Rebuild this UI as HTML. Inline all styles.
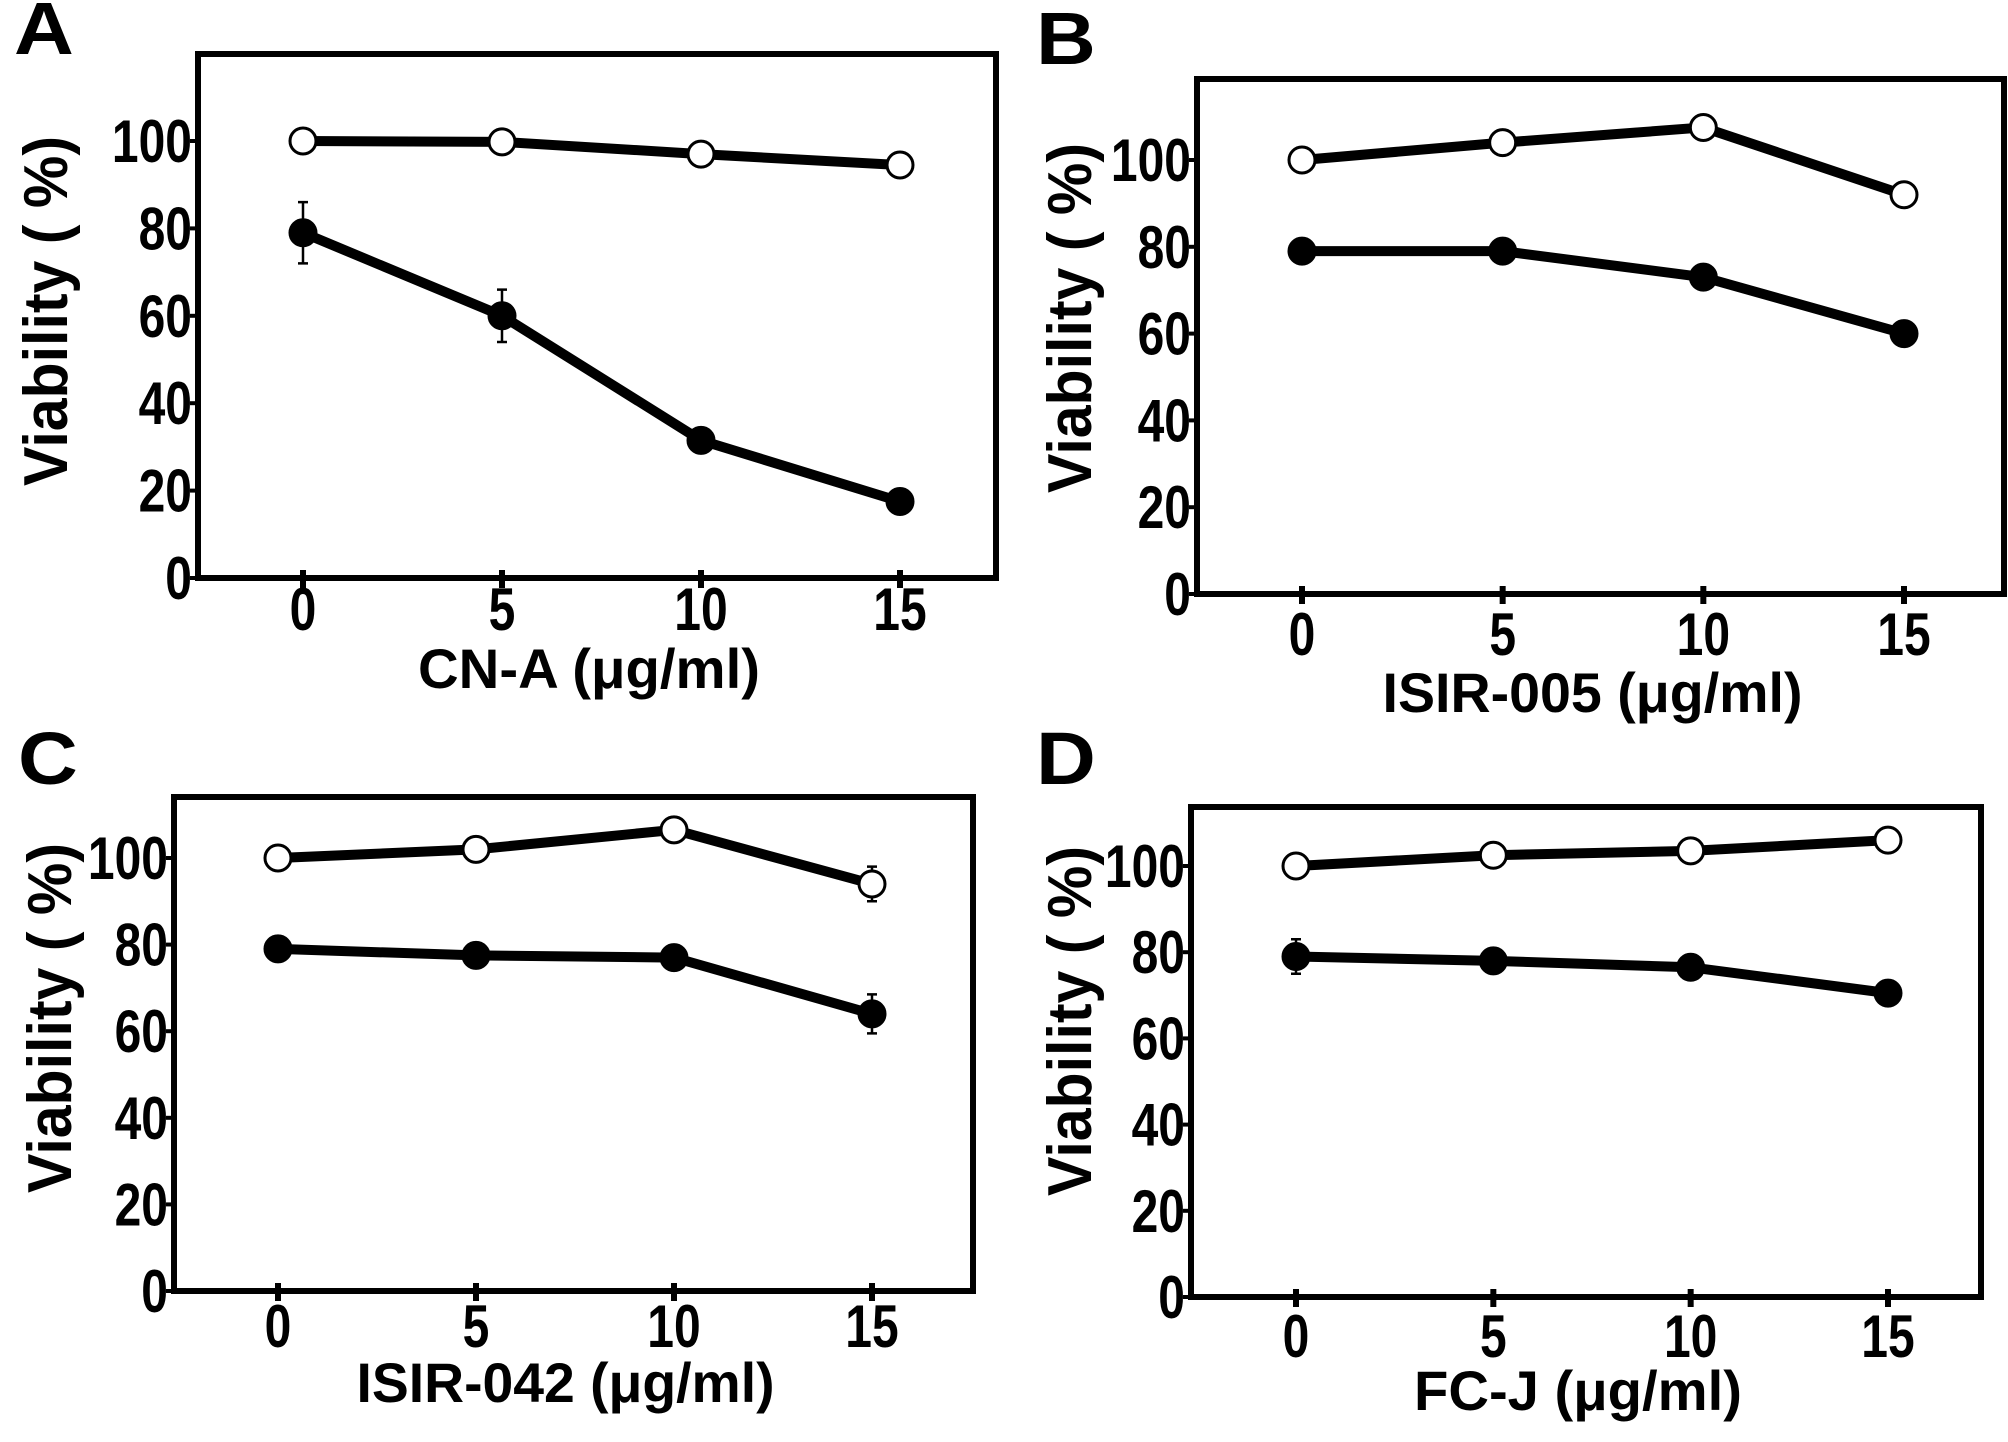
<!DOCTYPE html>
<html><head><meta charset="utf-8">
<style>
html,body{margin:0;padding:0;background:#fff;overflow:hidden;}
svg{display:block;}
text{font-family:"Liberation Sans",Arial,sans-serif;font-weight:bold;fill:#000;}
</style></head>
<body>
<svg id="fig" width="2008" height="1442" viewBox="0 0 2008 1442" xmlns="http://www.w3.org/2000/svg"></svg>
<script>
const doses = [0, 5, 10, 15];
const yTicks = [0, 20, 40, 60, 80, 100];
const xTickLabels = ["0", "5", "10", "15"];
const panelLetters = ["A", "B", "C", "D"];
const xTitles = ["CN-A (\u03bcg/ml)", "ISIR-005 (\u03bcg/ml)", "ISIR-042 (\u03bcg/ml)", "FC-J (\u03bcg/ml)"];
const openA = [100, 99.8, 97, 94.5];
const filledA = [79, 60, 31.5, 17.5];
const filledErrA = [7, 6, 0, 0];
const openErrA = [0, 0, 0, 0];
const openB = [100, 104, 107.5, 92];
const filledB = [79, 79, 73, 60];
const openErrB = [0, 0, 0, 0];
const filledErrB = [0, 0, 0, 0];
const openC = [100, 102, 106.5, 94];
const filledC = [79, 77.5, 77, 64];
const openErrC = [0, 0, 0, 4];
const filledErrC = [0, 0, 2, 4.5];
const openD = [100, 102.5, 103.5, 106];
const filledD = [79, 78, 76.5, 70.5];
const openErrD = [0, 0, 0, 0];
const filledErrD = [4, 0, 0, 0];

const NS = "http://www.w3.org/2000/svg";
const svg = document.getElementById('fig');
function mk(tag, attrs, parent) {
  const e = document.createElementNS(NS, tag);
  for (const k in attrs) e.setAttribute(k, attrs[k]);
  (parent || svg).appendChild(e);
  return e;
}
const layouts = [
  {L:198,T:54,R:996,B:578,x0:303,x15:900,y100:141,letter:[14,54],tickY:630,titleY:688,titleLen:342,ytX:45,ytY:311},
  {L:1197,T:79,R:2004,B:594,x0:1302,x15:1904,y100:160,letter:[1036,64],tickY:655,titleY:712,titleLen:420,ytX:1069,ytY:318},
  {L:174,T:797,R:973,B:1291,x0:278,x15:872,y100:858,letter:[18,784],tickY:1347,titleY:1402,titleLen:418,ytX:49,ytY:1018},
  {L:1191,T:807,R:1981,B:1297,x0:1296,x15:1888,y100:866,letter:[1036,784],tickY:1357,titleY:1410,titleLen:328,ytX:1069,ytY:1021}
];
const openSeries = [openA, openB, openC, openD];
const filledSeries = [filledA, filledB, filledC, filledD];
const openErrs = [openErrA, openErrB, openErrC, openErrD];
const filledErrs = [filledErrA, filledErrB, filledErrC, filledErrD];

layouts.forEach((p, i) => {
  const g = mk('g', {});
  
  
  const y0 = p.B;
  const xs = v => p.x0 + v / 15 * (p.x15 - p.x0);
  const ys = v => y0 - v / 100 * (y0 - p.y100);

  const lt = mk('text', {'font-size':74, transform:`translate(${p.letter[0]},${p.letter[1]}) scale(1.12,1)`}, g);
  lt.textContent = panelLetters[i];
  
  

  const fr = mk('rect', {x:p.L, y:p.T, width:p.R-p.L, height:p.B-p.T, fill:'none', stroke:'#000', 'stroke-width':6}, g);
  
  

  yTicks.forEach(t => {
    const y = ys(t);
    const tk = mk('line', {x1:p.L-8, x2:p.L, y1:y, y2:y, stroke:'#000', 'stroke-width':4}, g);
    
    
    const tl = mk('text', {'font-size':60, 'text-anchor':'end', transform:`translate(${p.L-6},${y+21}) scale(0.8,1)`}, g);
    tl.textContent = String(t);
    
    
  });
  doses.forEach((d, j) => {
    const x = xs(d);
    const tk = mk('line', {x1:x, x2:x, y1:p.B-8, y2:p.B+10, stroke:'#000', 'stroke-width':6}, g);
    
    
    const tl = mk('text', {'font-size':60, 'text-anchor':'middle', transform:`translate(${x},${p.tickY}) scale(0.8,1)`}, g);
    tl.textContent = xTickLabels[j];
    
    
  });
  const xt = mk('text', {x:(p.L+p.R)/2 - 8, y:p.titleY, 'font-size':56, 'text-anchor':'middle', textLength:p.titleLen, lengthAdjust:'spacingAndGlyphs'}, g);
  xt.textContent = xTitles[i];
  
  
  const yt = mk('text', {x:0, y:0, 'font-size':62, 'text-anchor':'middle', transform:`translate(${p.ytX+22},${p.ytY}) rotate(-90)`, textLength:350, lengthAdjust:'spacingAndGlyphs'}, g);
  yt.textContent = 'Viability ( %)';
  
  

  [[filledSeries[i], filledErrs[i], '#000', 'filled'], [openSeries[i], openErrs[i], '#fff', 'open']].forEach(([vals, errs, fill, nm]) => {
    const pts = vals.map((v, j) => xs(doses[j]) + ',' + ys(v)).join(' ');
    const pl = mk('polyline', {points:pts, fill:'none', stroke:'#000', 'stroke-width':10, 'stroke-linejoin':'round'}, g);
    
    
    vals.forEach((v, j) => {
      const x = xs(doses[j]), y = ys(v), e = errs[j];
      if (e > 0) {
        const eb = mk('path', {d:`M${x},${ys(v+e)}V${ys(v-e)}M${x-5},${ys(v+e)}H${x+5}M${x-5},${ys(v-e)}H${x+5}`, stroke:'#000', 'stroke-width':2.5, fill:'none'}, g);
        
        
      }
      const c = mk('circle', {cx:x, cy:y, r:13, fill:fill, stroke:'#000', 'stroke-width':3}, g);
      
      
    });
  });
});
</script>
</body></html>
